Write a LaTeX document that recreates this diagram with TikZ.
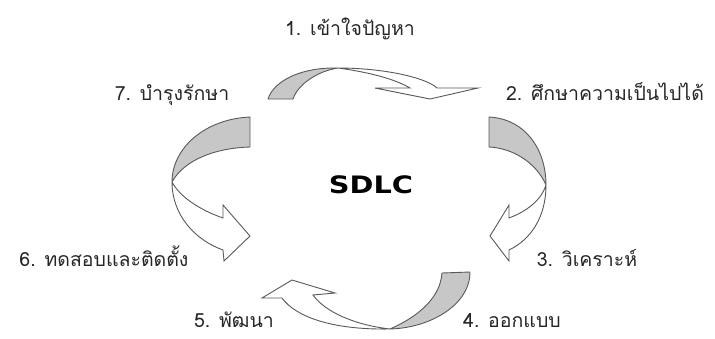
\documentclass[tikz,border=0pt]{standalone}
\usepackage{fontspec}
\newfontfamily\thaifont[Script=Thai]{Loma}
\newfontfamily\sdlcfont{DejaVu Sans}
\usepackage{tikz}
\usetikzlibrary{positioning}

\begin{document}
\begin{tikzpicture}[x=1pt, y=-1pt,
    back/.style={draw=black!65, line width=0.9pt, fill=black!22, line join=round},
    front/.style={draw=black!65, line width=0.9pt, fill=white, line join=miter},
    phase/.style={font=\thaifont\fontsize{19.5}{22}\selectfont, text=black!85, inner sep=0pt, anchor=base}]
  \useasboundingbox (0, 0) rectangle (715, 338);

  \node[phase] at (350, 35) (p1) {1. เข้าใจปัญหา};
  \node[phase] at (605, 100) (p2) {2. ศึกษาความเป็นไปได้};
  \node[phase] at (587, 266) (p3) {3. วิเคราะห์};
  \node[phase] at (512, 327) (p4) {4. ออกแบบ};
  \node[phase] at (234, 327) (p5) {5. พัฒนา};
  \node[phase] at (104, 266) (p6) {6. ทดสอบและติดตั้ง};
  \node[phase] at (172, 100) (p7) {7. บำรุงรักษา};

  \node[font=\sdlcfont\bfseries\fontsize{24}{26}\selectfont, inner sep=0pt] at (371, 185) (sdlc)
    {\scalebox{1.2}[1]{SDLC}};

  % top
  \draw[back] (268, 99) .. controls (274, 80) and (303, 67) .. (338, 68)
    .. controls (318, 71) and (298, 84) .. (293, 99) -- cycle;
  \draw[front] (338, 68) .. controls (382, 68) and (425, 77) .. (437, 88) -- (478, 88)
    -- (430, 99) -- (375, 88) -- (410, 88) .. controls (395, 79) and (368, 72) .. (338, 68);

  % right
  \draw[back] (489, 117) .. controls (526, 119) and (546, 150) .. (546, 185)
    .. controls (536, 162) and (512, 148) .. (489, 147) -- cycle;
  \draw[front] (546, 185) .. controls (546, 218) and (530, 240) .. (509, 250) -- (509, 261)
    -- (490, 236) -- (509, 205) -- (509, 218) .. controls (530, 210) and (542, 198) .. (546, 185);

  % bottom
  \draw[back] (470, 272) .. controls (470, 305) and (430, 328) .. (390, 329)
    .. controls (415, 318) and (440, 300) .. (442, 273) -- cycle;
  \draw[front] (390, 329) .. controls (330, 330) and (295, 316) .. (282, 298) -- (262, 298)
    -- (292, 280) -- (335, 293) -- (313, 295) .. controls (325, 312) and (355, 325) .. (390, 329);

  % left
  \draw[back] (250, 117) .. controls (205, 119) and (172, 148) .. (172, 182)
    .. controls (184, 160) and (215, 148) .. (250, 147) -- cycle;
  \draw[front] (172, 182) .. controls (172, 215) and (195, 240) .. (223, 250) -- (224, 261)
    -- (250, 236) -- (223, 205) -- (223, 218) .. controls (200, 210) and (180, 197) .. (172, 182);
\end{tikzpicture}
\end{document}
